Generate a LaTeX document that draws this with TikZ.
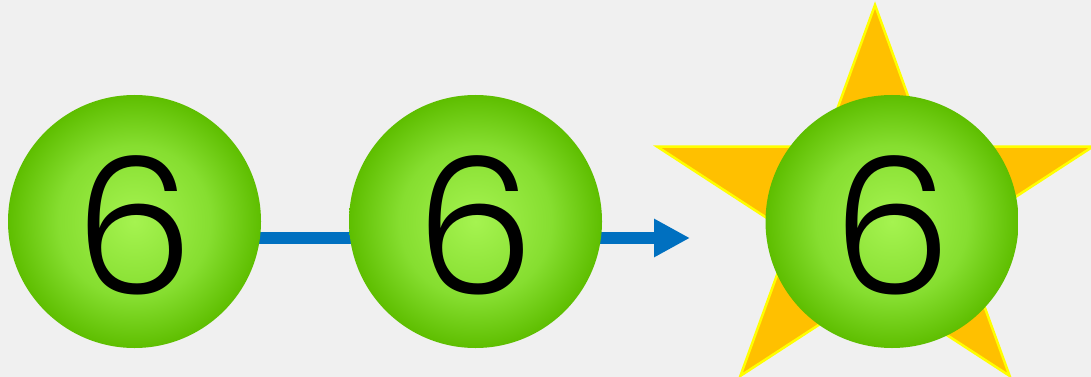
\documentclass[tikz,border=0pt]{standalone}
\usepackage{fontspec}
\setmainfont{Poppins Light}
\usetikzlibrary{arrows.meta,backgrounds}
\definecolor{bg}{HTML}{F0F0F0}
\definecolor{ballin}{HTML}{A5F350}
\definecolor{ballmid}{HTML}{86DE30}
\definecolor{ballout}{HTML}{5EBE00}
\definecolor{arrowblue}{HTML}{0070C0}
\definecolor{starfill}{HTML}{FFC000}
\definecolor{staredge}{HTML}{FFFF00}
\pgfdeclareradialshading{ballshade}{\pgfpointorigin}{color(0bp)=(ballin); color(15bp)=(ballmid); color(25bp)=(ballout); color(50bp)=(ballout)}
\newcommand{\sixdigit}{\raisebox{-4pt}[\height][0pt]{6}}
\begin{document}
\begin{tikzpicture}[x=1pt,y=-1pt,
  numball/.style={circle, minimum size=253pt, inner sep=0pt, shading=ballshade,
    font=\fontsize{190}{190}\selectfont, text=black},
  link/.style={arrowblue, line width=12pt},
  starshape/.style={fill=starfill, draw=staredge, line width=2.5pt, line join=miter}]
\useasboundingbox (0,0) rectangle (1091,377);
\begin{scope}[on background layer]
  \fill[bg] (0,0) rectangle (1091,377);
\end{scope}
% star
\draw[starshape] ({875+229*cos(90)},{210-205*sin(90)})
  \foreach \k in {0,...,4} {
    -- ({875+0.382*229*cos(126+72*\k)},{210-0.382*205*sin(126+72*\k)})
    -- ({875+229*cos(162+72*\k)},{210-205*sin(162+72*\k)})
  } -- cycle;
% balls
\node[numball] (c1) at (134.5,221.5) {\sixdigit};
\node[numball] (c2) at (475.5,221.5) {\sixdigit};
\node[numball] (c3) at (892,221.5) {\sixdigit};
\coordinate (tip) at (690,238);
\begin{scope}[on background layer]
  \draw[link] ([yshift=-16.5pt]c1.center) -- ([yshift=-16.5pt]c2.center);
  \draw[link, -{Triangle[length=36pt,width=36pt]}] ([yshift=-16.5pt]c2.center) -- (tip);
\end{scope}
\end{tikzpicture}
\end{document}
